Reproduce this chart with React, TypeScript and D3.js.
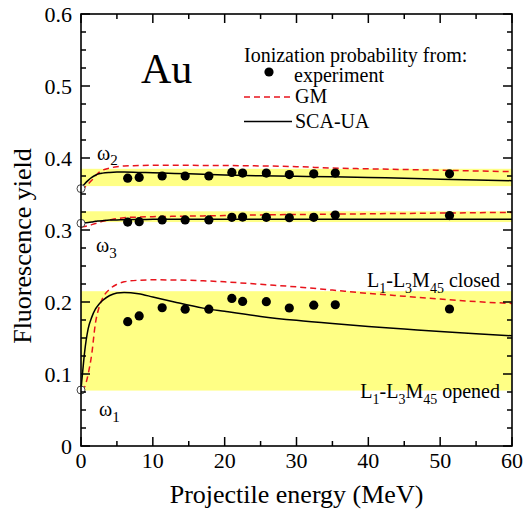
import React from "react";
import * as d3 from "d3";

// Au L-subshell fluorescence yields (serif text)
const SERIF = "Liberation Serif";
const RED = "#e8141c";
const YELLOW = "#ffff85";

const curveEnergy = [0, 0.25, 0.5, 1, 1.5, 2, 2.5, 3, 4, 5, 6, 8, 10, 13, 17, 20, 25, 30, 35, 40, 45, 50, 55, 60];

const w2SCA = [0.358, 0.361, 0.364, 0.369, 0.373, 0.376, 0.378, 0.379, 0.380, 0.3805, 0.3806, 0.380, 0.3795, 0.3785, 0.3775, 0.3765, 0.3752, 0.3745, 0.374, 0.373, 0.372, 0.3705, 0.3695, 0.3685];
const w2GM = [0.356, 0.357, 0.359, 0.364, 0.369, 0.375, 0.380, 0.383, 0.386, 0.388, 0.389, 0.3895, 0.390, 0.390, 0.3897, 0.3895, 0.389, 0.388, 0.386, 0.385, 0.384, 0.383, 0.382, 0.381];

const w3SCA = [0.3095, 0.3097, 0.310, 0.3105, 0.3112, 0.312, 0.3125, 0.313, 0.3138, 0.314, 0.3143, 0.3146, 0.3148, 0.315, 0.315, 0.315, 0.315, 0.315, 0.315, 0.315, 0.315, 0.315, 0.315, 0.315];
const w3GM = [0.304, 0.3045, 0.305, 0.306, 0.3075, 0.309, 0.3105, 0.312, 0.314, 0.3158, 0.317, 0.318, 0.3185, 0.319, 0.3196, 0.320, 0.321, 0.3215, 0.322, 0.3225, 0.323, 0.3235, 0.324, 0.3245];

const w1SCA = [0.079, 0.105, 0.13, 0.163, 0.179, 0.19, 0.197, 0.202, 0.209, 0.2125, 0.2133, 0.2115, 0.207, 0.200, 0.1915, 0.187, 0.180, 0.1745, 0.170, 0.166, 0.1625, 0.159, 0.156, 0.153];
const w1GM = [0.078, 0.079, 0.082, 0.100, 0.128, 0.170, 0.192, 0.205, 0.218, 0.2245, 0.228, 0.2302, 0.2308, 0.2306, 0.2295, 0.228, 0.2245, 0.221, 0.2165, 0.212, 0.208, 0.204, 0.2005, 0.198];

const expEnergy = [6.5, 8.1, 11.3, 14.5, 17.8, 21.0, 22.5, 25.8, 29.0, 32.4, 35.4, 51.3];
const w2Exp = [0.372, 0.373, 0.375, 0.375, 0.375, 0.380, 0.379, 0.379, 0.377, 0.378, 0.379, 0.378];
const w3Exp = [0.311, 0.3115, 0.314, 0.314, 0.314, 0.3176, 0.318, 0.3176, 0.317, 0.3176, 0.3208, 0.320];
const w1Exp = [0.1727, 0.1806, 0.192, 0.190, 0.190, 0.205, 0.2008, 0.2005, 0.1917, 0.1956, 0.1962, 0.1903];

const bandLow = [0.361, 0.311, 0.077];
const bandHigh = [0.385, 0.326, 0.215];
const zeroValues = [0.3575, 0.3093, 0.0778];

const xMajorTicks = [0, 10, 20, 30, 40, 50, 60];
const xMinorTicks = [5, 15, 25, 35, 45, 55];
const yMajorTicks = [0, 0.1, 0.2, 0.3, 0.4, 0.5, 0.6];

export default function App() {
  const left = 81, right = 512, top = 14, bottom = 446;
  const x = d3.scaleLinear().domain([0, 60]).range([left, right]);
  const y = d3.scaleLinear().domain([0, 0.6]).range([bottom, top]);

  const line = (vals: number[]) =>
    d3.line<number>()
      .x((_, i) => x(curveEnergy[i]))
      .y((v) => y(v))
      .curve(d3.curveMonotoneX)(vals) as string;

  const yMinorTicks = d3.range(0, 25).filter((i) => i % 4 !== 0).map((i) => i * 0.025);
  const fmt = (d: number) => (d === 0 ? "0" : d3.format(".1f")(d));

  const sca = [w2SCA, w3SCA, w1SCA];
  const gm = [w2GM, w3GM, w1GM];
  const exps = [w2Exp, w3Exp, w1Exp];

  const major = 9, minor = 5;

  const T = (props: any) => <text fontFamily={SERIF} style={{ fontFamily: `"${SERIF}"` }} {...props} />;

  return (
    <svg width={525} height={520} style={{ position: "absolute", left: 0, top: 0 }}>
      <rect x={0} y={0} width={525} height={520} fill="#fff" />
      {bandLow.map((lo, i) => (
        <rect key={"b" + i} x={x(0)} width={x(60) - x(0)} y={y(bandHigh[i])} height={y(lo) - y(bandHigh[i])} fill={YELLOW} />
      ))}
      {gm.map((vals, i) => (
        <path key={"gm" + i} d={line(vals)} fill="none" stroke={RED} strokeWidth={1.5} strokeDasharray="6,4" />
      ))}
      {sca.map((vals, i) => (
        <path key={"sca" + i} d={line(vals)} fill="none" stroke="#000" strokeWidth={1.5} />
      ))}
      {exps.map((vals, i) =>
        vals.map((v, j) => <circle key={"e" + i + "-" + j} cx={x(expEnergy[j])} cy={y(v)} r={4.6} fill="#000" />)
      )}
      {zeroValues.map((v, i) => (
        <circle key={"z" + i} cx={x(0)} cy={y(v)} r={4} fill="#fff" stroke="#444" strokeWidth={1} />
      ))}

      <rect x={left} y={top} width={right - left} height={bottom - top} fill="none" stroke="#000" strokeWidth={1.6} />
      {xMajorTicks.map((t) => (
        <g key={"xm" + t}>
          <line x1={x(t)} x2={x(t)} y1={bottom} y2={bottom - major} stroke="#000" strokeWidth={1.5} />
          <line x1={x(t)} x2={x(t)} y1={top} y2={top + major} stroke="#000" strokeWidth={1.5} />
          <T x={x(t)} y={468} fontSize={22} textAnchor="middle">{t}</T>
        </g>
      ))}
      {xMinorTicks.map((t) => (
        <g key={"xn" + t}>
          <line x1={x(t)} x2={x(t)} y1={bottom} y2={bottom - minor} stroke="#000" strokeWidth={1.5} />
          <line x1={x(t)} x2={x(t)} y1={top} y2={top + minor} stroke="#000" strokeWidth={1.5} />
        </g>
      ))}
      {yMajorTicks.map((t) => (
        <g key={"ym" + t}>
          <line x1={left} x2={left + major} y1={y(t)} y2={y(t)} stroke="#000" strokeWidth={1.5} />
          <line x1={right} x2={right - major} y1={y(t)} y2={y(t)} stroke="#000" strokeWidth={1.5} />
          <T x={72} y={y(t) + 7.5} fontSize={22} textAnchor="end">{fmt(t)}</T>
        </g>
      ))}
      {yMinorTicks.map((t) => (
        <g key={"yn" + t}>
          <line x1={left} x2={left + minor} y1={y(t)} y2={y(t)} stroke="#000" strokeWidth={1.5} />
          <line x1={right} x2={right - minor} y1={y(t)} y2={y(t)} stroke="#000" strokeWidth={1.5} />
        </g>
      ))}

      <T x={296.5} y={503} fontSize={26} textAnchor="middle">Projectile energy (MeV)</T>
      <T transform="translate(31,246) rotate(-90)" fontSize={26} textAnchor="middle">Fluorescence yield</T>

      <T x={141} y={83} fontSize={42}>Au</T>

      <T x={244} y={62} fontSize={20}>Ionization probability from:</T>
      <circle cx={269} cy={72} r={4.6} fill="#000" />
      <T x={294} y={82} fontSize={20}>experiment</T>
      <line x1={244} x2={292} y1={97} y2={97} stroke={RED} strokeWidth={1.5} strokeDasharray="6,4" />
      <T x={295} y={103} fontSize={20}>GM</T>
      <line x1={244} x2={292} y1={121.5} y2={121.5} stroke="#000" strokeWidth={1.5} />
      <T x={295} y={127.5} fontSize={20}>SCA-UA</T>

      <T x={97} y={160} fontSize={20}>ω<tspan fontSize={15} dy={5}>2</tspan></T>
      <T x={96} y={252} fontSize={20}>ω<tspan fontSize={15} dy={6}>3</tspan></T>
      <T x={99} y={416} fontSize={20}>ω<tspan fontSize={15} dy={6}>1</tspan></T>

      <T x={500} y={287} fontSize={20} textAnchor="end">
        L<tspan fontSize={14} dy={6}>1</tspan><tspan dy={-6}>-L</tspan><tspan fontSize={14} dy={6}>3</tspan><tspan dy={-6}>M</tspan><tspan fontSize={14} dy={6}>45</tspan><tspan dy={-6}> closed</tspan>
      </T>
      <T x={500} y={398} fontSize={20} textAnchor="end">
        L<tspan fontSize={14} dy={6}>1</tspan><tspan dy={-6}>-L</tspan><tspan fontSize={14} dy={6}>3</tspan><tspan dy={-6}>M</tspan><tspan fontSize={14} dy={6}>45</tspan><tspan dy={-6}> opened</tspan>
      </T>
    </svg>
  );
}
